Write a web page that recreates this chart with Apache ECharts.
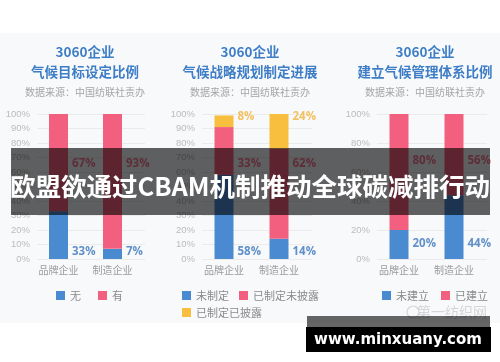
<!DOCTYPE html>
<html><head><meta charset="utf-8">
<script src="https://cdn.jsdelivr.net/npm/echarts@6/dist/echarts.min.js"></script>
<style>html,body{margin:0;padding:0;background:#fff}#c{width:500px;height:362px}</style>
</head><body><div id="c"></div>
<script>
// ---- data ----
const categories = ['品牌企业', '制造企业'];
const headline = '欧盟欲通过CBAM机制推动全球碳减排行动';
const source = '数据来源：中国纺联社责办';
const titleTop = '3060企业';
const panelTitles = ['气候目标设定比例', '气候战略规划制定进展', '建立气候管理体系比例'];
// panel 1
const p1Names = ['无', '有'];
const p1None = [33, 7];
const p1Have = [67, 93];
// panel 2
const p2Names = ['未制定', '已制定未披露', '已制定已披露'];
const p2NotSet = [58, 14];
const p2Undisclosed = [33, 62];
const p2Disclosed = [8, 24];
// panel 3
const p3Names = ['未建立', '已建立'];
const p3NotBuilt = [20, 44];
const p3Built = [80, 56];
const yIntervals = [10, 10, 20];

// ---- style ----
const BLUE = '#4a8ad0', PINK = '#f3607f', YELLOW = '#f8bf3e';
const LBLUE = '#3b76bb', LPINK = '#f0587a', LYELLOW = '#f2b33a';
const TITLE = '#3d7ec6';
const FONT = '"Noto Sans CJK SC", "Noto Sans", sans-serif';

const grids = [
  {left: 37, right: 355, top: 114, bottom: 103},
  {left: 202, right: 188, top: 114, bottom: 103},
  {left: 377, right: 13, top: 114, bottom: 103}
];
const centers = [85, 250, 425];

const panels = [
  {names: p1Names, values: [p1None, p1Have], colors: [BLUE, PINK], lcolors: [LBLUE, LPINK], levels: [5, 65.5]},
  {names: p2Names, values: [p2NotSet, p2Undisclosed, p2Disclosed], colors: [BLUE, PINK, YELLOW], lcolors: [LBLUE, LPINK, LYELLOW], levels: [5, 65.5, 98]},
  {names: p3Names, values: [p3NotBuilt, p3Built], colors: [BLUE, PINK], lcolors: [LBLUE, LPINK], levels: [10.3, 68]}
];

const xAxis = [], yAxis = [], series = [], title = [];
panels.forEach((p, i) => {
  xAxis.push({
    type: 'category', gridIndex: i, data: categories,
    axisLine: {show: false}, axisTick: {show: false},
    axisLabel: {color: '#9a9a9a', fontSize: 10, margin: 6, padding: [0, 11, 0, 0], fontFamily: FONT}
  });
  yAxis.push({
    type: 'value', gridIndex: i, min: 0, max: 100, interval: yIntervals[i],
    axisLine: {show: false}, axisTick: {show: false},
    axisLabel: {formatter: '{value}%', color: '#bcbcbc', fontSize: 9.5, margin: 7},
    splitLine: {lineStyle: {color: '#ebebeb', width: 1}}
  });
  p.names.forEach((n, k) => {
    series.push({
      type: 'bar', name: n, stack: 's' + i, xAxisIndex: i, yAxisIndex: i,
      barWidth: 19, barGap: '0%', data: p.values[k],
      itemStyle: {color: p.colors[k]}, z: 2
    });
  });
  // invisible companion stack that shifts the real bars left of band center
  series.push({
    type: 'bar', name: '_pad' + i, stack: 'pad' + i, xAxisIndex: i, yAxisIndex: i,
    barWidth: 11, barGap: '0%', data: [0, 0], silent: true,
    itemStyle: {color: 'transparent'}
  });
  p.names.forEach((n, k) => {
    const vals = p.values[k];
    series.push({
      type: 'scatter', name: '_lbl' + i + k, xAxisIndex: i, yAxisIndex: i,
      symbolSize: 0, silent: true, z: 5,
      data: categories.map((c, j) => [j, p.levels[k]]),
      label: {
        show: true, position: 'right', distance: 8,
        formatter: (q) => vals[q.dataIndex] + '%',
        color: p.lcolors[k], fontSize: 11.5, fontWeight: 'bold', fontFamily: '"Open Sans", sans-serif'
      }
    });
  });
  title.push({
    text: titleTop + '\n' + panelTitles[i], subtext: source,
    left: centers[i], top: 42, textAlign: 'center', padding: 0, itemGap: 4,
    textStyle: {fontSize: 13.5, fontWeight: 'bold', color: TITLE, lineHeight: 20, fontFamily: FONT},
    subtextStyle: {fontSize: 10, color: '#a5a5a5', lineHeight: 12, fontFamily: FONT}
  });
});

const legendCommon = {
  icon: 'rect', itemWidth: 9, itemHeight: 9, itemGap: 12, padding: 0,
  textStyle: {fontSize: 11, color: '#8a8a8a', fontFamily: FONT}, selectedMode: false
};
const legend = [
  Object.assign({}, legendCommon, {data: p1Names, left: 56, top: 290, itemGap: 17}),
  Object.assign({}, legendCommon, {data: p2Names.slice(0, 2), left: 182, top: 290, itemGap: 10}),
  Object.assign({}, legendCommon, {data: p2Names.slice(2), left: 182, top: 307}),
  Object.assign({}, legendCommon, {data: p3Names, left: 382, top: 290, itemGap: 12})
];

const graphic = [
  {type: 'rect', z: -10, shape: {x: 0, y: 33, width: 500, height: 290}, style: {fill: '#f8f9fb'}},
  {type: 'rect', z: 100, shape: {x: 11, y: 148, width: 479, height: 67}, style: {fill: 'rgba(0,0,0,0.62)'}},
  {type: 'text', z: 101, x: 250, y: 186, style: {text: headline, fill: '#fff', fontSize: 25.5, fontWeight: 'bold', fontFamily: FONT, align: 'center', verticalAlign: 'middle'}},
  {type: 'text', z: 100, x: 452, y: 312, style: {text: '第一纺织网', fill: 'rgba(170,170,170,0.45)', fontSize: 14, fontFamily: FONT, align: 'center', verticalAlign: 'middle'}},
  {type: 'circle', z: 100, shape: {cx: 413, cy: 312, r: 6}, style: {fill: 'none', stroke: 'rgba(170,170,170,0.45)', lineWidth: 1.2}},
  {type: 'rect', z: 100, shape: {x: 307, y: 316, width: 183, height: 11}, style: {fill: 'rgba(0,0,0,0.6)'}},
  {type: 'rect', z: 101, shape: {x: 306, y: 327, width: 185, height: 25}, style: {fill: '#000'}},
  {type: 'text', z: 102, x: 398, y: 340, style: {text: 'www.minxuany.com', fill: '#fff', fontSize: 15, fontWeight: 'bold', fontFamily: '"DejaVu Sans", sans-serif', align: 'center', verticalAlign: 'middle'}}
];

const chart = echarts.init(document.getElementById('c'), null, {renderer: 'canvas'});
chart.setOption({
  backgroundColor: '#ffffff',
  animation: false,
  title, legend, grid: grids, xAxis, yAxis, series, graphic
});
</script></body></html>
